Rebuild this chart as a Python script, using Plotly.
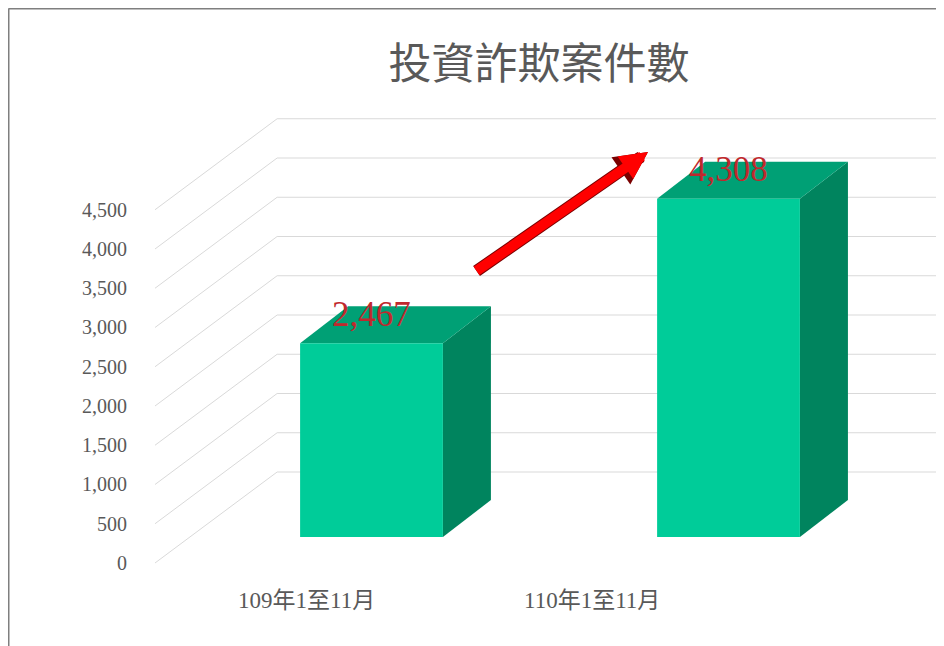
import plotly.graph_objects as go

# ---------------- data ----------------
title_text = "投資詐欺案件數"
categories = ["109年1至11月", "110年1至11月"]
cases = [2467, 4308]
tick_values = [0, 500, 1000, 1500, 2000, 2500, 3000, 3500, 4000, 4500]
tick_labels = ["0", "500", "1,000", "1,500", "2,000", "2,500", "3,000", "3,500", "4,000", "4,500"]

# ---------------- geometry (oblique 3-D projection, in axis units) ----------------
BAR_W = 0.40          # bar front-face width (category units)
BAR_DX, BAR_DY = 0.1345, 471      # bar depth offset
FRONT_DX, FRONT_DY = -0.098, -331  # front plane relative to bar front plane
BACK_DX, BACK_DY = 0.244, 828      # back wall relative to bar front plane
WALL_LEFT = -0.6064                # left edge of front plane
X_RANGE = [-1.0182, 1.6036]
Y_RANGE = [-1388.5, 6738.9]
FIG_W, FIG_H = 936, 638            # page body has an 8px margin

FRONT_COL = "#00CC99"
TOP_COL = "#00A075"
SIDE_COL = "#00845E"
GRID_COL = "#D9D9D9"
TEXT_COL = "#595959"
LABEL_COL = "#C0282D"

fig = go.Figure()

# gridlines: left wall diagonals + back wall horizontals
back_left = WALL_LEFT + (BACK_DX - FRONT_DX)
gx, gy = [], []
for v in tick_values:
    gx += [WALL_LEFT, back_left, X_RANGE[1] + 1, None]
    gy += [v + FRONT_DY, v + BACK_DY, v + BACK_DY, None]
fig.add_trace(go.Scatter(x=gx, y=gy, mode="lines", line=dict(color=GRID_COL, width=1),
                         hoverinfo="skip", showlegend=False))

# bars: side, top, front faces
for i, v in enumerate(cases):
    x0, x1 = i - BAR_W / 2, i + BAR_W / 2
    fig.add_trace(go.Scatter(
        x=[x1, x1 + BAR_DX, x1 + BAR_DX, x1, x1],
        y=[0, BAR_DY, v + BAR_DY, v, 0],
        fill="toself", fillcolor=SIDE_COL, mode="lines", line=dict(width=0, color=SIDE_COL),
        hoverinfo="skip", showlegend=False))
    fig.add_trace(go.Scatter(
        x=[x0, x0 + BAR_DX, x1 + BAR_DX, x1, x0],
        y=[v, v + BAR_DY, v + BAR_DY, v, v],
        fill="toself", fillcolor=TOP_COL, mode="lines", line=dict(width=0, color=TOP_COL),
        hoverinfo="skip", showlegend=False))
    fig.add_trace(go.Scatter(
        x=[x0, x1, x1, x0, x0],
        y=[0, 0, v, v, 0],
        fill="toself", fillcolor=FRONT_COL, mode="lines", line=dict(width=0, color=FRONT_COL),
        name=categories[i], hovertemplate="%{fullData.name}: " + f"{v:,}<extra></extra>",
        showlegend=False))
    fig.add_annotation(x=i, y=v, text=f"{v:,}", showarrow=False, yshift=29,
                       font=dict(family="Liberation Serif", size=35, color=LABEL_COL))

# y tick labels on the front plane
for v, t in zip(tick_values, tick_labels):
    fig.add_annotation(x=WALL_LEFT, y=v + FRONT_DY, text=t, showarrow=False,
                       xanchor="right", xshift=-26,
                       font=dict(family="Liberation Serif", size=20, color=TEXT_COL))

# category labels
for i, c in enumerate(categories):
    fig.add_annotation(x=-0.181 + 0.799 * i, y=-815, text=c, showarrow=False,
                       font=dict(family="Liberation Serif, Noto Sans CJK TC", size=23, color=TEXT_COL))

# trend arrow (outline + fill)
for col, w in (("#7A0000", 12), ("#FF0000", 10)):
    fig.add_annotation(x=0.7745, y=4904, ax=0.29, ay=3376, axref="x", ayref="y",
                       xref="x", yref="y", text="", showarrow=True,
                       arrowhead=2, arrowsize=0.55, arrowwidth=w, arrowcolor=col)

# chart border (left and top)
fig.add_shape(type="line", xref="paper", yref="paper", x0=0.5 / FIG_W, x1=0.5 / FIG_W,
              y0=-0.05, y1=1 - 0.5 / FIG_H, line=dict(color="#7F7F7F", width=2))
fig.add_shape(type="line", xref="paper", yref="paper", x0=0.5 / FIG_W, x1=1.05,
              y0=1 - 0.5 / FIG_H, y1=1 - 0.5 / FIG_H, line=dict(color="#7F7F7F", width=2))

fig.update_layout(
    width=FIG_W, height=FIG_H,
    margin=dict(l=0, r=0, t=0, b=0),
    paper_bgcolor="white", plot_bgcolor="white",
    title=dict(text=title_text, x=(539 - 8) / FIG_W, xanchor="center",
               y=1 - (64 - 8) / FIG_H, yanchor="middle",
               font=dict(family="Noto Sans CJK TC", size=43, color=TEXT_COL)),
    xaxis=dict(range=X_RANGE, visible=False, fixedrange=True),
    yaxis=dict(range=Y_RANGE, visible=False, fixedrange=True),
    showlegend=False,
)

fig.write_html("out.html")
